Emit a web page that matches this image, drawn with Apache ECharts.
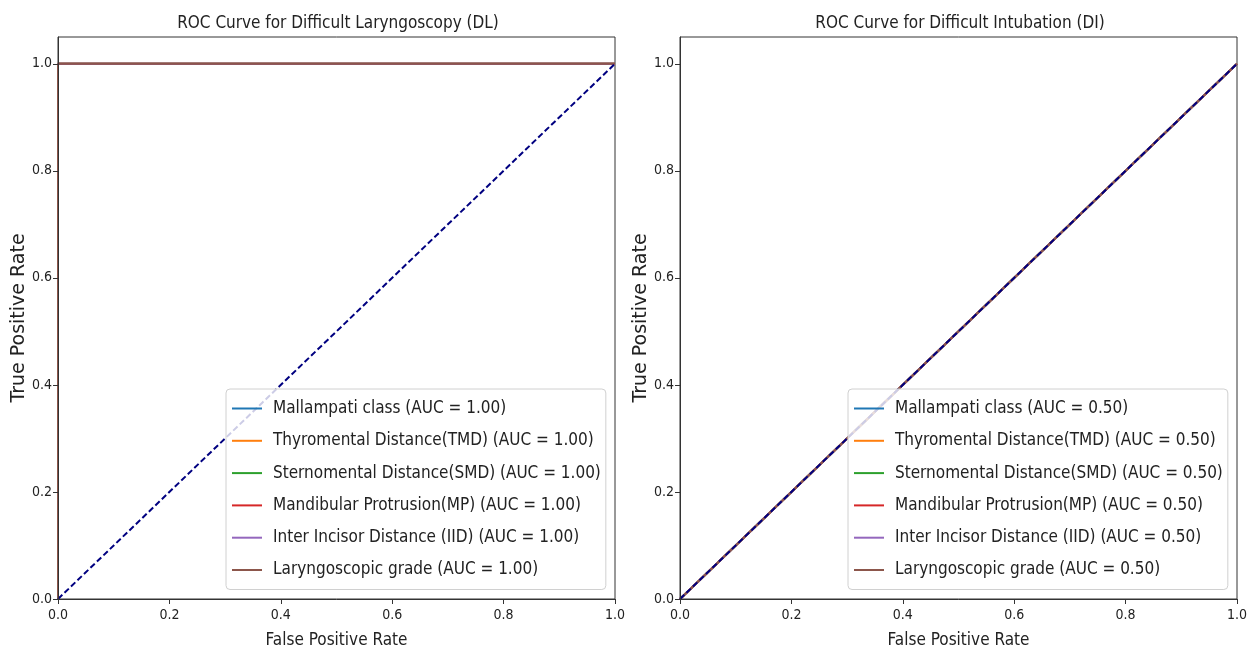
<!DOCTYPE html>
<html>
<head>
<meta charset="utf-8">
<script src="https://cdn.jsdelivr.net/npm/echarts@6/dist/echarts.min.js"></script>
<style>
  html, body { margin: 0; padding: 0; background: #fff; }
  #chart { width: 1251px; height: 654px; }
</style>
</head>
<body>
<div id="chart"></div>
<script>
// data
var tickValues = [0, 0.2, 0.4, 0.6, 0.8, 1.0];
var featureNames = [
  "Mallampati class",
  "Thyromental Distance(TMD)",
  "Sternomental Distance(SMD)",
  "Mandibular Protrusion(MP)",
  "Inter Incisor Distance (IID)",
  "Laryngoscopic grade"
];
var colors = ["#1f77b4", "#ff7f0e", "#2ca02c", "#d62728", "#9467bd", "#8c564b"];

// DL: every predictor is perfect -> (0,0) (0,1) (1,1)
var dlFpr = [0, 0, 1];
var dlTpr = [0, 1, 1];
var dlAuc = [1.00, 1.00, 1.00, 1.00, 1.00, 1.00];

// DI: every predictor is chance -> (0,0) (1,1)
var diFpr = [0, 1];
var diTpr = [0, 1];
var diAuc = [0.50, 0.50, 0.50, 0.50, 0.50, 0.50];

// chance diagonal
var chanceX = [0, 1];
var chanceY = [0, 1];

function pts(xs, ys) {
  var out = [];
  for (var i = 0; i < xs.length; i++) out.push([xs[i], ys[i]]);
  return out;
}

var font = "'DejaVu Sans Condensed', 'DejaVu Sans', sans-serif";
var grids = [
  { left: 58, top: 37, width: 557, height: 564 },
  { left: 680, top: 37, width: 557, height: 564 }
];

function makeAxes(idx) {
  var x = {
    type: "value", gridIndex: idx, min: 0, max: 1, interval: 0.2, z: 10,
    name: "False Positive Rate", nameLocation: "middle", nameGap: 33,
    nameTextStyle: { fontFamily: font, fontSize: 17, color: "#222" },
    axisLine: { show: true, lineStyle: { color: "#333", width: 1 } },
    axisTick: { show: true, length: 5, lineStyle: { color: "#333" }, customValues: tickValues },
    axisLabel: { fontFamily: font, fontSize: 14, color: "#222", margin: 9,
      customValues: tickValues, formatter: function (v) { return v.toFixed(1); } },
    splitLine: { show: false }
  };
  var y = {
    type: "value", gridIndex: idx, min: 0, max: 1.05, z: 10,
    name: "True Positive Rate", nameLocation: "middle", nameGap: 25,
    nameTextStyle: { fontFamily: "'DejaVu Sans', sans-serif", fontSize: 19, color: "#222" },
    axisLine: { show: true, lineStyle: { color: "#333", width: 1 } },
    axisTick: { show: true, length: 5, lineStyle: { color: "#333" }, customValues: tickValues },
    axisLabel: { fontFamily: font, fontSize: 14, color: "#222", margin: 6,
      customValues: tickValues, formatter: function (v) { return v.toFixed(1); } },
    splitLine: { show: false }
  };
  return { x: x, y: y };
}

var a0 = makeAxes(0), a1 = makeAxes(1);
var series = [];
var legendLeft = [], legendRight = [];

featureNames.forEach(function (n, i) {
  var nameL = n + " (AUC = " + dlAuc[i].toFixed(2) + ")";
  var nameR = n + " (AUC = " + diAuc[i].toFixed(2) + ")";
  legendLeft.push(nameL);
  legendRight.push(nameR);
  series.push({
    name: nameL, type: "line", xAxisIndex: 0, yAxisIndex: 0,
    data: pts(dlFpr, dlTpr), showSymbol: false, symbol: "none",
    lineStyle: { color: colors[i], width: 2 }, itemStyle: { color: colors[i] },
    silent: true, animation: false
  });
});
featureNames.forEach(function (n, i) {
  series.push({
    name: legendRight[i], type: "line", xAxisIndex: 1, yAxisIndex: 1,
    data: pts(diFpr, diTpr), showSymbol: false, symbol: "none",
    lineStyle: { color: colors[i], width: 2 }, itemStyle: { color: colors[i] },
    silent: true, animation: false
  });
});
[0, 1].forEach(function (g) {
  series.push({
    name: "chance" + g, type: "line", xAxisIndex: g, yAxisIndex: g,
    data: pts(chanceX, chanceY), showSymbol: false, symbol: "none",
    lineStyle: { color: "#000080", width: 2, type: [6, 3] },
    silent: true, animation: false, z: 5
  });
});

function legendCfg(data, left) {
  return {
    data: data, orient: "vertical", left: left, top: 389,
    icon: "rect", itemWidth: 30, itemHeight: 2, itemGap: 15.3,
    padding: [11, 5, 11, 6],
    backgroundColor: "rgba(255,255,255,0.8)", borderColor: "#d0d0d0",
    borderWidth: 1, borderRadius: 4,
    textStyle: { fontFamily: font, fontSize: 17, color: "#222", padding: [0, 0, 0, 6] },
    selectedMode: false, z: 20
  };
}

var chart = echarts.init(document.getElementById("chart"));
chart.setOption({
  backgroundColor: "#fff",
  animation: false,
  title: [
    { text: "ROC Curve for Difficult Laryngoscopy (DL)", left: 333, top: 10, textAlign: "center",
      textStyle: { fontFamily: font, fontSize: 17, fontWeight: "normal", color: "#222" } },
    { text: "ROC Curve for Difficult Intubation (DI)", left: 955, top: 10, textAlign: "center",
      textStyle: { fontFamily: font, fontSize: 17, fontWeight: "normal", color: "#222" } }
  ],
  grid: grids.map(function (g) {
    return { left: g.left, top: g.top, width: g.width, height: g.height,
      show: true, borderColor: "#333", borderWidth: 1, backgroundColor: "transparent" };
  }),
  xAxis: [a0.x, a1.x],
  yAxis: [a0.y, a1.y],
  legend: [legendCfg(legendLeft, 226), legendCfg(legendRight, 848)],
  series: series
});
</script>
</body>
</html>
